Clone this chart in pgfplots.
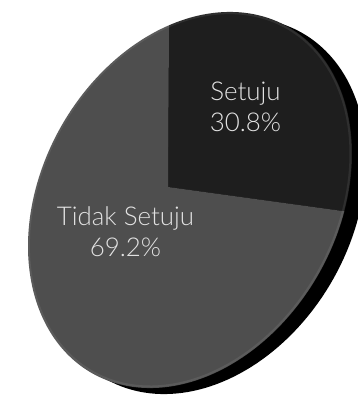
\documentclass[border=0pt]{standalone}
\usepackage{pgfplots}
\pgfplotsset{compat=1.18}
\usepackage{fontspec}
\setmainfont{Lato}[UprightFont=* Light]
\definecolor{slicedark}{RGB}{30,30,30}
\definecolor{slicegray}{RGB}{78,78,78}
\definecolor{labeltext}{RGB}{226,226,226}
% pie values (percent)
\def\valSetuju{30.8}
\def\valTidak{69.2}
\begin{document}
\begin{tikzpicture}
\pgfmathsetmacro{\tA}{52.06}
\pgfmathsetmacro{\tB}{\tA+3.6*\valSetuju}
\pgfmathsetmacro{\tC}{\tB+3.6*\valTidak}
\begin{axis}[
  x=1bp, y=1bp, y dir=reverse,
  xmin=0, xmax=358, ymin=0, ymax=395,
  hide axis, scale only axis,
  variable=\t,
  declare function={
    kk=0.1722;
    px(\r,\t)=168+\r*(-124.0*cos(\t)+98.1*sin(\t))/(1+kk*\r*cos(\t));
    py(\r,\t)=187+\r*(-73.28*cos(\t)-169.66*sin(\t))/(1+kk*\r*cos(\t));
  },
]
\path (axis cs:0,0) rectangle (axis cs:358,395);
% side / shadow of the disc
\addplot[fill=black, draw=none, domain=0:360, samples=200]
  ({px(1,\t)+14},{py(1,\t)+6}) -- cycle;
% Setuju slice
\addplot[fill=slicedark, draw=none, domain=\tA:\tB, samples=100]
  ({px(1,\t)},{py(1,\t)}) -- (axis cs:168,187) -- cycle;
% Tidak Setuju slice
\addplot[fill=slicegray, draw=none, domain=\tB:\tC, samples=200]
  ({px(1,\t)},{py(1,\t)}) -- (axis cs:168,187) -- cycle;
% faint rim highlight of the face
\addplot[draw=white, draw opacity=0.08, line width=2bp, domain=0:360, samples=200]
  ({px(0.993,\t)},{py(0.993,\t)}) -- cycle;
\node[align=center, text=labeltext, font=\fontsize{26}{31}\selectfont]
  at (axis cs:245.5,107) {Setuju\\\valSetuju\%};
\node[align=center, text=labeltext, font=\fontsize{26}{31}\selectfont]
  at (axis cs:125.5,232) {Tidak Setuju\\\valTidak\%};
\end{axis}
\end{tikzpicture}
\end{document}
